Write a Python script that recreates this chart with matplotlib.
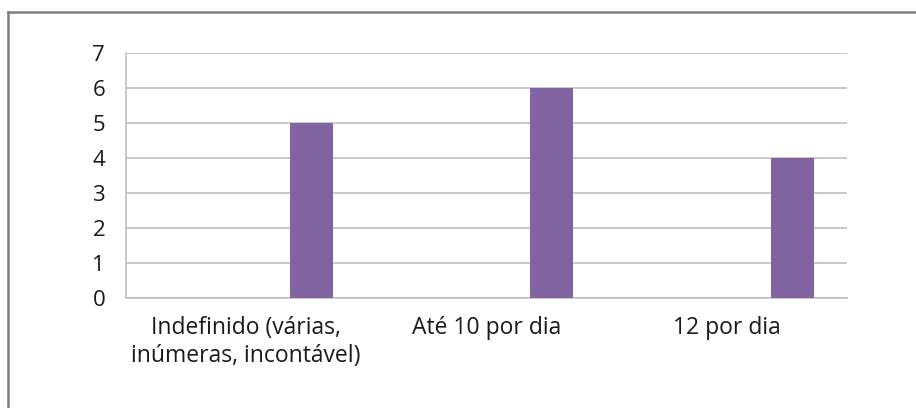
import matplotlib
matplotlib.use("Agg")
import matplotlib.pyplot as plt
from matplotlib.lines import Line2D

categories = ["Indefinido (várias,\ninúmeras, incontável)", "Até 10 por dia", "12 por dia"]
values = [5, 6, 4]
yticks = [0, 1, 2, 3, 4, 5, 6, 7]

W, H = 916, 408
fig = plt.figure(figsize=(W / 100, H / 100), dpi=100)
fig.patch.set_facecolor("white")
plt.rcParams["font.family"] = ["Open Sans", "DejaVu Sans"]

# plot area in pixel coordinates
left, right, top, bottom = 126, 847, 53, 298
ax = fig.add_axes([left / W, 1 - bottom / H, (right - left) / W, (bottom - top) / H])

bar_offset = 0.272
bar_width = 0.179
xs = [i + bar_offset for i in range(len(categories))]
ax.bar(xs, values, width=bar_width, color="#8064A2", zorder=3)

ax.set_xlim(-0.5, len(categories) - 0.5)
ax.set_ylim(0, 7)
ax.set_yticks(yticks)
ax.set_yticklabels([str(t) for t in yticks], fontsize=16, color="#1A1A1A")
ax.set_xticks(range(len(categories)))
ax.set_xticklabels(categories, fontsize=16.5, color="#1A1A1A", linespacing=1.2)
ax.tick_params(axis="both", length=0)
ax.tick_params(axis="y", pad=15)
ax.tick_params(axis="x", pad=13)
ax.grid(axis="y", color="#BFBFBF", linewidth=1.2, zorder=0)

for s in ["top", "right"]:
    ax.spines[s].set_visible(False)
ax.spines["left"].set_color("#BFBFBF")
ax.spines["bottom"].set_color("#BFBFBF")
ax.spines["left"].set_linewidth(1.2)
ax.spines["bottom"].set_linewidth(1.2)

# outer frame (top and left edges)
fx, fy = 8 / W, 1 - 12 / H
fig.add_artist(Line2D([fx, 1], [fy, fy], transform=fig.transFigure, color="#7F7F7F", linewidth=1.8))
fig.add_artist(Line2D([fx, fx], [0, fy], transform=fig.transFigure, color="#7F7F7F", linewidth=1.8))

fig.savefig("out.png", dpi=100)
